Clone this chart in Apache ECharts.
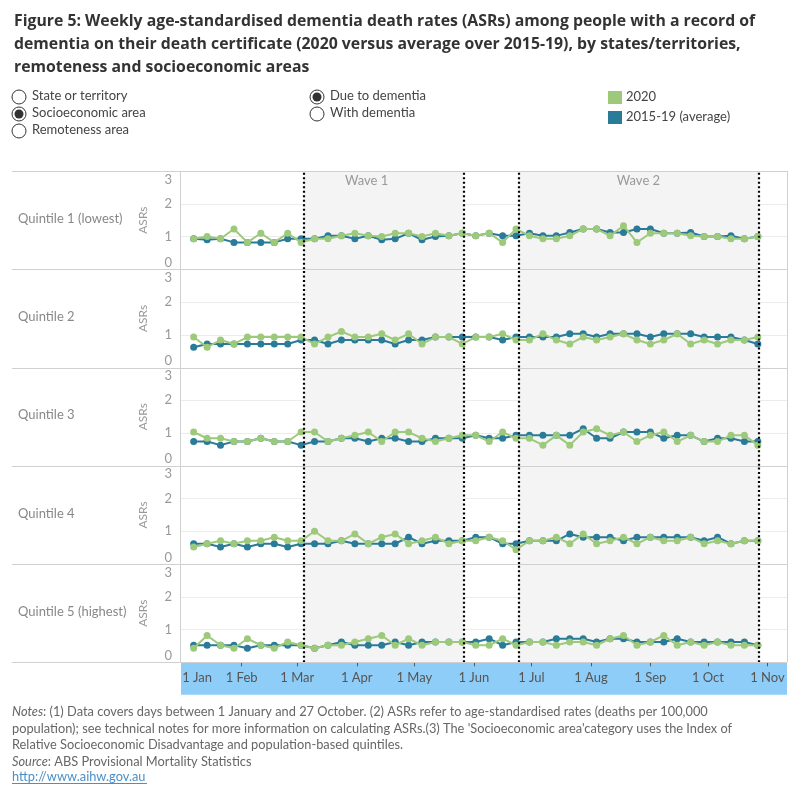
<!DOCTYPE html>
<html>
<head>
<meta charset="utf-8">
<script src="https://cdn.jsdelivr.net/npm/echarts@6/dist/echarts.min.js"></script>
<style>
  html, body { margin: 0; padding: 0; background: #fff; }
  #chart { width: 800px; height: 800px; }
</style>
</head>
<body>
<div id="chart"></div>
<script>
// day of year (1 Jan = 0) of each weekly point
const weekDays = [6, 13, 20, 27, 34, 41, 48, 55, 62, 69, 76, 83, 90, 97, 104, 111, 118, 125, 132, 139, 146,
  153, 160, 167, 174, 181, 188, 195, 202, 209, 216, 223, 230, 237, 244, 251, 258, 265, 272, 279, 286, 293, 300];

const monthDays = [0, 31, 60, 91, 121, 152, 182, 213, 244, 274, 305];
const monthLabels = ["1 Jan", "1 Feb", "1 Mar", "1 Apr", "1 May", "1 Jun", "1 Jul", "1 Aug", "1 Sep", "1 Oct", "1 Nov"];

const rowNames = ["Quintile 1 (lowest)", "Quintile 2", "Quintile 3", "Quintile 4", "Quintile 5 (highest)"];

// wave periods (day of year) and dotted boundaries
const waves = [["Wave 1", 63.5, 146.5], ["Wave 2", 175.3, 300.3]];
const waveLines = [63.5, 146.5, 175.3, 300.3];

const q1_2020 = [0.93, 1.0, 0.93, 1.23, 0.82, 1.1, 0.82, 1.1, 0.82, 0.93, 0.93, 1.02, 1.1, 1.02, 1.0, 1.1,
  1.1, 1.0, 1.1, 1.02, 1.1, 1.02, 1.1, 0.82, 1.23, 1.02, 0.93, 0.93, 1.02, 1.23, 1.23, 1.02, 1.33, 0.82, 1.1, 1.1, 1.1, 1.02, 1.0, 1.0, 0.93, 0.93, 1.0];
const q1_avg = [0.93, 0.9, 0.93, 0.82, 0.82, 0.82, 0.82, 0.93, 0.93, 0.93, 1.02, 1.02, 0.93, 1.02, 0.9, 0.93,
  1.1, 0.9, 1.0, 1.02, 1.1, 1.02, 1.1, 1.02, 1.02, 1.1, 1.02, 1.02, 1.12, 1.23, 1.23, 1.12, 1.12, 1.23, 1.23, 1.1, 1.1, 1.12, 1.0, 1.0, 1.02, 0.93, 1.0];

const q2_2020 = [0.93, 0.62, 0.84, 0.72, 0.93, 0.93, 0.93, 0.93, 0.93, 0.72, 0.93, 1.1, 0.93, 0.93, 1.03, 0.84,
  1.03, 0.72, 0.93, 0.93, 0.72, 0.93, 0.93, 1.03, 0.84, 0.84, 1.03, 0.84, 0.72, 0.93, 0.84, 0.93, 1.03, 0.84, 0.72, 0.84, 1.03, 0.72, 0.84, 0.72, 0.84, 0.84, 0.93];
const q2_avg = [0.62, 0.72, 0.72, 0.72, 0.72, 0.72, 0.72, 0.72, 0.84, 0.84, 0.72, 0.84, 0.84, 0.84, 0.84, 0.72,
  0.84, 0.84, 0.93, 0.93, 0.93, 0.93, 0.93, 0.84, 0.93, 0.93, 0.93, 0.93, 1.03, 1.03, 0.93, 1.03, 1.03, 1.03, 0.93, 1.03, 1.03, 1.03, 0.93, 0.93, 0.93, 0.84, 0.72];

const q3_2020 = [1.03, 0.84, 0.84, 0.74, 0.74, 0.84, 0.74, 0.74, 1.03, 1.03, 0.74, 0.84, 0.93, 1.03, 0.74, 1.03,
  1.03, 0.84, 0.74, 0.84, 0.93, 0.93, 0.74, 1.03, 0.84, 0.84, 0.63, 0.93, 0.63, 1.03, 1.13, 0.93, 1.03, 0.74, 0.93, 1.03, 0.74, 0.93, 0.74, 0.74, 0.93, 0.93, 0.63];
const q3_avg = [0.74, 0.74, 0.63, 0.74, 0.74, 0.84, 0.74, 0.74, 0.63, 0.74, 0.74, 0.84, 0.84, 0.74, 0.84, 0.84,
  0.74, 0.74, 0.84, 0.84, 0.84, 0.93, 0.84, 0.84, 0.93, 0.93, 0.93, 0.93, 0.93, 1.13, 0.84, 0.84, 1.03, 1.03, 1.03, 0.84, 0.93, 0.93, 0.74, 0.84, 0.84, 0.74, 0.74];

const q4_2020 = [0.52, 0.62, 0.71, 0.62, 0.71, 0.71, 0.82, 0.71, 0.71, 1.0, 0.71, 0.71, 0.92, 0.62, 0.82, 0.92,
  0.62, 0.71, 0.82, 0.62, 0.71, 0.71, 0.82, 0.71, 0.44, 0.71, 0.71, 0.82, 0.62, 0.92, 0.62, 0.71, 0.82, 0.62, 0.82, 0.71, 0.71, 0.82, 0.62, 0.71, 0.62, 0.71, 0.71];
const q4_avg = [0.62, 0.62, 0.52, 0.62, 0.52, 0.62, 0.62, 0.52, 0.62, 0.62, 0.62, 0.71, 0.62, 0.62, 0.62, 0.62,
  0.82, 0.62, 0.71, 0.71, 0.71, 0.82, 0.82, 0.62, 0.62, 0.71, 0.71, 0.71, 0.92, 0.82, 0.82, 0.82, 0.71, 0.82, 0.82, 0.82, 0.82, 0.82, 0.71, 0.82, 0.62, 0.71, 0.71];

const q5_2020 = [0.43, 0.82, 0.52, 0.43, 0.72, 0.52, 0.43, 0.62, 0.52, 0.43, 0.52, 0.52, 0.62, 0.72, 0.82, 0.52,
  0.72, 0.52, 0.62, 0.62, 0.62, 0.52, 0.52, 0.72, 0.52, 0.62, 0.62, 0.52, 0.62, 0.62, 0.52, 0.72, 0.82, 0.52, 0.62, 0.82, 0.52, 0.62, 0.52, 0.62, 0.52, 0.52, 0.52];
const q5_avg = [0.52, 0.52, 0.52, 0.52, 0.43, 0.52, 0.52, 0.52, 0.52, 0.43, 0.52, 0.62, 0.52, 0.52, 0.52, 0.62,
  0.52, 0.62, 0.62, 0.62, 0.62, 0.62, 0.72, 0.52, 0.62, 0.62, 0.62, 0.72, 0.72, 0.72, 0.62, 0.72, 0.72, 0.62, 0.62, 0.62, 0.72, 0.62, 0.62, 0.62, 0.62, 0.62, 0.52];

const rows2020 = [q1_2020, q2_2020, q3_2020, q4_2020, q5_2020];
const rowsAvg = [q1_avg, q2_avg, q3_avg, q4_avg, q5_avg];

const GREEN = "#9dc97b";
const BLUE = "#2a7b98";
const FONT = "Lato";

const chart = echarts.init(document.getElementById("chart"));

const plotLeft = 181, plotRight = 787, plotTop = 171, rowH = 98.26;
const grids = [], xAxes = [], yAxes = [], series = [], graphic = [];

rowNames.forEach((name, k) => {
  const top = plotTop + k * rowH;
  const last = k === rowNames.length - 1;
  grids.push({ left: plotLeft, top: top, width: plotRight - plotLeft, height: rowH });

  xAxes.push({
    type: "value",
    gridIndex: k,
    min: -0.6,
    max: 315.2,
    z: 5,
    axisLine: { show: false },
    splitLine: { show: false },
    axisTick: {
      show: last,
      customValues: monthDays.slice(1),
      length: 4,
      lineStyle: { color: "#555" },
    },
    axisLabel: {
      show: last,
      customValues: monthDays,
      formatter: (v) => monthLabels[monthDays.indexOf(v)],
      alignMinLabel: "left",
      margin: 9,
      color: "#555",
      fontFamily: FONT,
      fontSize: 13,
    },
  });

  yAxes.push({
    type: "value",
    gridIndex: k,
    min: 0,
    max: 3,
    interval: 1,
    name: "ASRs",
    nameLocation: "middle",
    nameGap: 32,
    nameTextStyle: { color: "#999", fontFamily: FONT, fontSize: 12 },
    axisLine: { show: false },
    axisTick: { show: false },
    axisLabel: {
      color: "#999",
      fontFamily: FONT,
      fontSize: 13,
      margin: 9,
      verticalAlignMinLabel: "bottom",
      verticalAlignMaxLabel: "top",
      padding: [2, 0, 0, 0],
    },
    splitLine: {
      lineStyle: { color: ["transparent", "#ececec", "#ececec", "transparent"] },
    },
  });

  series.push({
    name: "2015-19 (average)",
    type: "line",
    xAxisIndex: k,
    yAxisIndex: k,
    data: weekDays.map((d, i) => [d, rowsAvg[k][i]]),
    symbol: "circle",
    symbolSize: 7,
    color: BLUE,
    lineStyle: { width: 2, color: BLUE },
    z: 3,
    markArea: {
      silent: true,
      itemStyle: { color: "#f4f4f4" },
      label: {
        show: k === 0,
        position: "insideTop",
        distance: 3,
        color: "#999",
        fontFamily: FONT,
        fontSize: 13,
      },
      data: waves.map((w, j) => [
        { name: w[0], xAxis: w[1], label: { offset: [j === 0 ? -17 : 0, 0] } },
        { xAxis: w[2] },
      ]),
    },
    markLine: {
      silent: true,
      symbol: "none",
      label: { show: false },
      lineStyle: { color: "#000", type: [2, 2.5], width: 2.2 },
      data: waveLines.map((v) => ({ xAxis: v })),
    },
  });

  series.push({
    name: "2020",
    type: "line",
    xAxisIndex: k,
    yAxisIndex: k,
    data: weekDays.map((d, i) => [d, rows2020[k][i]]),
    symbol: "circle",
    symbolSize: 7,
    color: GREEN,
    lineStyle: { width: 2, color: GREEN },
    z: 4,
  });

  graphic.push({
    type: "text",
    left: 18,
    top: top + rowH / 2 - 8,
    style: { text: name, fill: "#888", font: "13px " + FONT },
  });
});

// panel separators and borders
for (let k = 0; k <= rowNames.length; k++) {
  const y = Math.round(plotTop + k * rowH) + 0.5;
  graphic.push({
    type: "line",
    shape: { x1: 12, y1: y, x2: plotRight, y2: y },
    style: { stroke: "#d0d0d0", lineWidth: 1 },
    z: 10,
  });
}
[plotLeft - 0.5, plotRight + 0.5].forEach((x) => {
  graphic.push({
    type: "line",
    shape: { x1: x, y1: plotTop, x2: x, y2: plotTop + 5 * rowH },
    style: { stroke: "#d0d0d0", lineWidth: 1 },
    z: 10,
  });
});

// blue date band
graphic.push({
  type: "rect",
  shape: { x: plotLeft, y: plotTop + 5 * rowH + 0.5, width: plotRight - plotLeft, height: 32 },
  style: { fill: "#8fcdf9" },
  z: -1,
});

// title
graphic.push({
  type: "text",
  left: 14,
  top: 10,
  style: {
    text: "Figure 5: Weekly age-standardised dementia death rates (ASRs) among people with a record of\n" +
      "dementia on their death certificate (2020 versus average over 2015-19), by states/territories,\n" +
      "remoteness and socioeconomic areas",
    fill: "#333",
    font: "bold 15.8px 'Open Sans'",
    lineHeight: 23,
  },
});

// filter controls (radio buttons)
const radios = [
  ["State or territory", 19, 97, false],
  ["Socioeconomic area", 19, 114, true],
  ["Remoteness area", 19, 131, false],
  ["Due to dementia", 317, 97, true],
  ["With dementia", 317, 114, false],
];
radios.forEach(([label, x, y, on]) => {
  graphic.push({ type: "circle", shape: { cx: x, cy: y, r: 7 }, style: { fill: "#fff", stroke: "#333", lineWidth: 1 } });
  if (on) graphic.push({ type: "circle", shape: { cx: x, cy: y, r: 4.5 }, style: { fill: "#333" } });
  graphic.push({ type: "text", left: x + 13, top: y - 8, style: { text: label, fill: "#444", font: "13px " + FONT } });
});

// legend
[["2020", GREEN, 98], ["2015-19 (average)", BLUE, 118]].forEach(([label, c, y]) => {
  graphic.push({ type: "rect", shape: { x: 608, y: y - 7, width: 14, height: 13 }, style: { fill: c } });
  graphic.push({ type: "text", left: 626, top: y - 8, style: { text: label, fill: "#444", font: "13px " + FONT } });
});

// notes
graphic.push({
  type: "text",
  left: 12,
  top: 704,
  style: {
    text: "{i|Notes}: (1) Data covers days between 1 January and 27 October. (2) ASRs refer to age-standardised rates (deaths per 100,000\n" +
      "population); see technical notes for more information on calculating ASRs.(3) The 'Socioeconomic area'category uses the Index of\n" +
      "Relative Socioeconomic Disadvantage and population-based quintiles.\n" +
      "{i|Source}: ABS Provisional Mortality Statistics",
    fill: "#666",
    font: "12.8px " + FONT,
    lineHeight: 16.5,
    rich: { i: { fontStyle: "italic", fontFamily: FONT, fontSize: 12.8, fill: "#666" } },
  },
});
graphic.push({
  type: "text",
  left: 12,
  top: 770,
  style: { text: "http://www.aihw.gov.au", fill: "#4a8fc7", font: "12.8px " + FONT },
});
graphic.push({
  type: "line",
  shape: { x1: 12, y1: 783.5, x2: 147, y2: 783.5 },
  style: { stroke: "#4a8fc7", lineWidth: 1 },
});

chart.setOption({
  animation: false,
  grid: grids,
  xAxis: xAxes,
  yAxis: yAxes,
  series: series,
  graphic: graphic,
});
</script>
</body>
</html>
